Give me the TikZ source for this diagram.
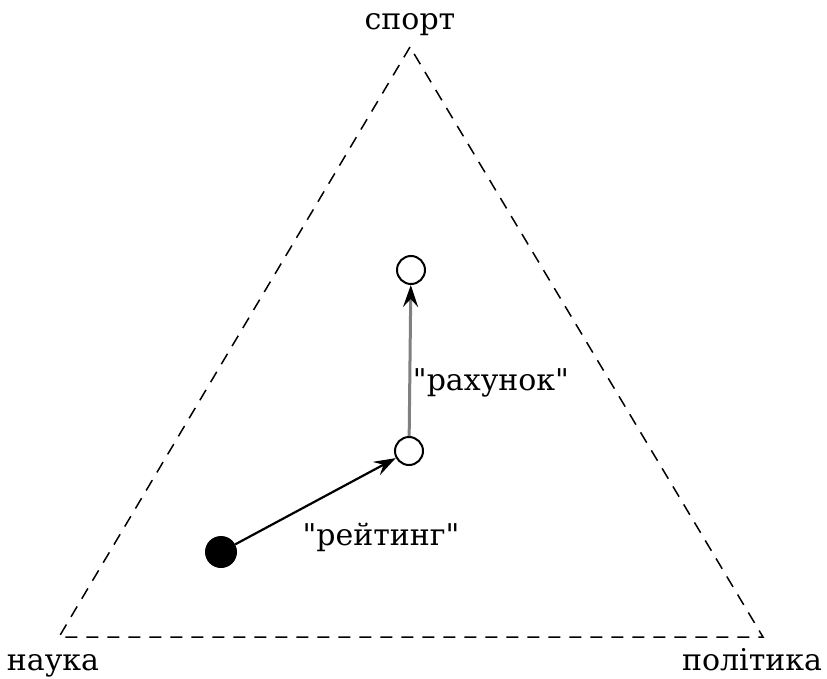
\documentclass[tikz,border=0pt]{standalone}
\usepackage{fontspec}
\setmainfont{DejaVu Serif}[Ligatures=TeXOff]
\usetikzlibrary{arrows.meta}
\begin{document}
\begin{tikzpicture}[x=1pt,y=-1pt,
  lbl/.style={font=\fontsize{30}{34}\selectfont, inner sep=0pt},
  opencirc/.style={circle, draw=black, line width=2pt, fill=white, minimum size=28pt, inner sep=0pt},
  fullcirc/.style={circle, fill=black, minimum size=32pt, inner sep=0pt},
  tri/.style={dashed, dash pattern=on 12pt off 9pt, line width=1.5pt},
  arr/.style={-{Stealth[length=22pt,width=15pt,inset=8pt]}, line width=2.2pt}]
\useasboundingbox (0,0) rectangle (827,679);
\coordinate (top) at (410,47);
\coordinate (bl) at (59,637);
\coordinate (br) at (763,637);
\draw[tri] (top) -- (bl) -- (br) -- cycle;
\node[lbl, anchor=base] (sport) at (410,30) {спорт};
\node[lbl, anchor=base] (nauka) at (53,670) {наука};
\node[lbl, anchor=base] (polit) at (752,670) {політика};
\node[opencirc] (c1) at (411,270) {};
\node[opencirc] (c2) at (409,451) {};
\node[fullcirc] (c0) at (221,552) {};
\draw[arr] (c0) -- (c2);
\draw[arr, draw=gray, line width=3pt, -{Stealth[length=22pt,width=15pt,inset=8pt,color=black]}] (c2) -- (c1);
\node[lbl] (rating) at (381,537) {"рейтинг"};
\node[lbl] (score) at (491,383) {"рахунок"};
\end{tikzpicture}
\end{document}
